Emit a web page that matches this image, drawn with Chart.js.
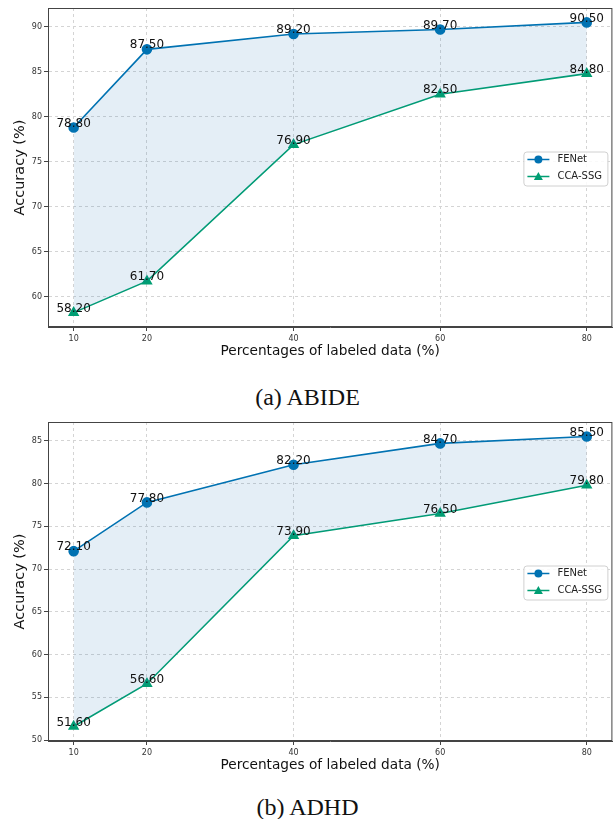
<!DOCTYPE html>
<html>
<head>
<meta charset="utf-8">
<script src="https://cdn.jsdelivr.net/npm/chart.js@4.4.0/dist/chart.umd.min.js"></script>
<style>
  body { margin: 0; background: #fff; width: 615px; height: 819px; position: relative; overflow: hidden; }
  .box { position: absolute; left: 0; width: 619px; height: 370px; }
  .cap { position: absolute; left: 0; width: 615px; text-align: center; font-family: "Liberation Serif", serif; font-size: 24px; color: #111; line-height: 28px; }
</style>
</head>
<body>
<div class="box" style="top:0"><canvas id="chartA" width="619" height="370"></canvas></div>
<div class="cap" style="top:383px">(a) ABIDE</div>
<div class="box" style="top:414px"><canvas id="chartB" width="619" height="370"></canvas></div>
<div class="cap" style="top:793px">(b) ADHD</div>
<script>
const percentages = [10, 20, 40, 60, 80];
const seriesNames = ["FENet", "CCA-SSG"];

const abideFENet = [78.8, 87.5, 89.2, 89.7, 90.5];
const abideCCA = [58.2, 61.7, 76.9, 82.5, 84.8];
const abideTicks = [60, 65, 70, 75, 80, 85, 90];

const adhdFENet = [72.1, 77.8, 82.2, 84.7, 85.5];
const adhdCCA = [51.6, 56.6, 73.9, 76.5, 79.8];
const adhdTicks = [50, 55, 60, 65, 70, 75, 80, 85];

const blue = '#0072B2';
const green = '#009E73';
const font = "'DejaVu Sans', sans-serif";

// frame on all four sides + value labels + legend
const extras = {
    id: 'extras',
    afterDraw(chart) {
        const ctx = chart.ctx;
        const a = chart.chartArea;
        ctx.save();
        ctx.strokeStyle = '#444';
        ctx.lineWidth = 1;
        ctx.strokeRect(a.left + 0.5, a.top + 0.5, a.right - a.left - 1, a.bottom - a.top - 1);

        ctx.fillStyle = '#111';
        ctx.font = "12px " + font;
        ctx.textAlign = 'center';
        ctx.textBaseline = 'bottom';
        chart.data.datasets.forEach((ds, i) => {
            chart.getDatasetMeta(i).data.forEach((pt, j) => {
                ctx.fillText(ds.data[j].y.toFixed(2), pt.x, pt.y + 2);
            });
        });

        // legend, centre right
        const w = 84, h = 34;
        const lx = a.right - 5 - w;
        const ly = (a.top + a.bottom) / 2 - h / 2 + 1;
        ctx.fillStyle = 'rgba(255,255,255,0.85)';
        ctx.strokeStyle = '#d0d0d0';
        ctx.beginPath();
        ctx.roundRect(lx + 0.5, ly + 0.5, w, h, 3);
        ctx.fill();
        ctx.stroke();
        ctx.font = "10px " + font;
        ctx.textAlign = 'left';
        ctx.textBaseline = 'middle';
        chart.data.datasets.forEach((ds, i) => {
            const y = ly + 8 + i * 17;
            ctx.strokeStyle = ds.borderColor;
            ctx.lineWidth = 1.5;
            ctx.beginPath();
            ctx.moveTo(lx + 4, y);
            ctx.lineTo(lx + 26, y);
            ctx.stroke();
            ctx.fillStyle = ds.borderColor;
            ctx.beginPath();
            if (i === 0) {
                ctx.arc(lx + 15, y, 4, 0, Math.PI * 2);
            } else {
                ctx.moveTo(lx + 15, y - 4.5);
                ctx.lineTo(lx + 19.5, y + 3.5);
                ctx.lineTo(lx + 10.5, y + 3.5);
                ctx.closePath();
            }
            ctx.fill();
            ctx.fillStyle = '#222';
            ctx.fillText(ds.label, lx + 34, y);
        });
        ctx.restore();
    }
};

function makeChart(id, fenet, cca, yMin, yMax, yTicks) {
    const ctx = document.getElementById(id).getContext('2d');
    const gridOpts = { color: '#d4d4d4', tickColor: '#444', tickLength: 4, tickBorderDash: [] };
    return new Chart(ctx, {
        type: 'line',
        data: {
            datasets: [{
                label: seriesNames[0],
                data: percentages.map((p, i) => ({ x: p, y: fenet[i] })),
                borderColor: blue,
                backgroundColor: 'rgba(31,119,180,0.12)',
                pointBackgroundColor: blue,
                pointBorderColor: blue,
                pointStyle: 'circle',
                pointRadius: 4.5,
                borderWidth: 1.6,
                fill: '+1',
                tension: 0
            }, {
                label: seriesNames[1],
                data: percentages.map((p, i) => ({ x: p, y: cca[i] })),
                borderColor: green,
                backgroundColor: green,
                pointBackgroundColor: green,
                pointBorderColor: green,
                pointStyle: 'triangle',
                pointRadius: 5,
                borderWidth: 1.6,
                fill: false,
                tension: 0
            }]
        },
        options: {
            responsive: false,
            animation: false,
            devicePixelRatio: 1,
            layout: { padding: { top: 8, right: 0, left: 0, bottom: 0 } },
            plugins: { legend: { display: false }, tooltip: { enabled: false } },
            scales: {
                x: {
                    type: 'linear',
                    min: 6.5,
                    max: 83.5,
                    afterBuildTicks: axis => { axis.ticks = percentages.map(v => ({ value: v })); },
                    afterFit: axis => { axis.height = 43; },
                    ticks: { font: { family: font, size: 8 }, color: '#333', padding: 3, maxRotation: 0 },
                    grid: gridOpts,
                    border: { display: true, color: '#444', dash: [3, 3] },
                    title: { display: true, text: 'Percentages of labeled data (%)', font: { family: font, size: 13.7 }, color: '#111', padding: { top: 4, bottom: 10 } }
                },
                y: {
                    min: yMin,
                    max: yMax,
                    afterBuildTicks: axis => { axis.ticks = yTicks.map(v => ({ value: v })); },
                    afterFit: axis => { axis.width = 48; },
                    ticks: { font: { family: font, size: 8 }, color: '#333', padding: 2 },
                    grid: gridOpts,
                    border: { display: true, color: '#444', dash: [3, 3] },
                    title: { display: true, text: 'Accuracy (%)', font: { family: font, size: 14.5 }, color: '#111', padding: { top: 12, bottom: 0 } }
                }
            }
        },
        plugins: [extras]
    });
}

makeChart('chartA', abideFENet, abideCCA, 56.6, 92.1, abideTicks);
makeChart('chartB', adhdFENet, adhdCCA, 49.9, 87.2, adhdTicks);
</script>
</body>
</html>
